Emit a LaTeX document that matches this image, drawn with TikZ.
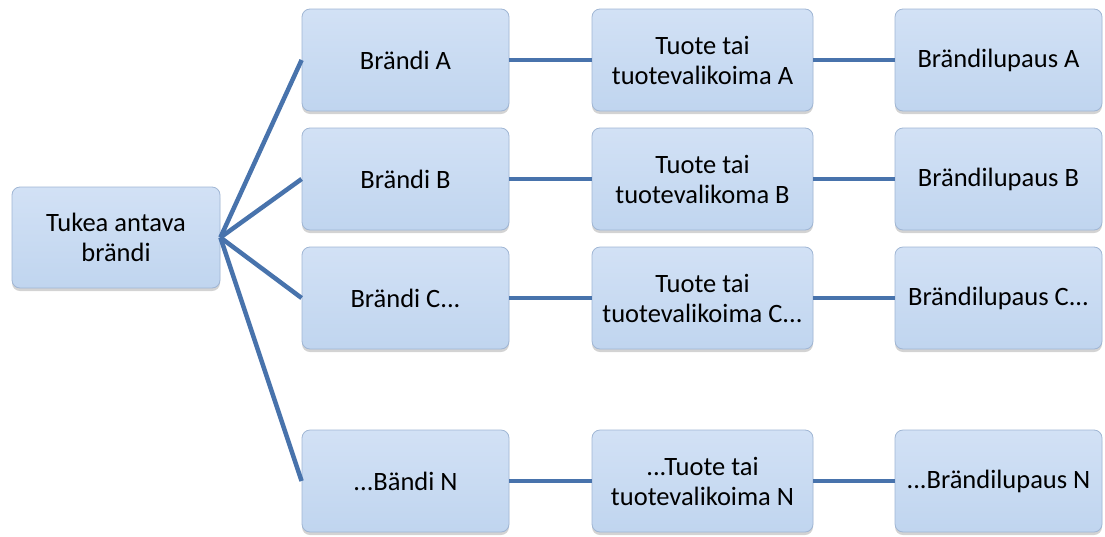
\documentclass[tikz,border=0pt]{standalone}
\usepackage{fontspec}
\setmainfont{Carlito}
\usetikzlibrary{shadows,calc}
\definecolor{boxtop}{RGB}{210,225,245}
\definecolor{boxbot}{RGB}{192,213,239}
\definecolor{boxline}{RGB}{160,182,212}
\definecolor{conn}{RGB}{72,115,172}
\tikzset{
  bbox/.style={draw=boxline, line width=0.8pt, rounded corners=8pt,
    top color=boxtop, bottom color=boxbot,
    drop shadow={opacity=0.35, shadow xshift=0pt, shadow yshift=-3pt},
    align=center, inner sep=2pt,
    font=\fontsize{26.5}{30}\selectfont, text=black},
  c1/.style={bbox, minimum width=207pt, minimum height=102pt},
  c2/.style={bbox, minimum width=221pt, minimum height=102pt},
  c3/.style={bbox, minimum width=207pt, minimum height=102pt},
  cn/.style={draw=conn, line width=4.5pt}
}
\begin{document}
\begin{tikzpicture}[x=1pt,y=-1pt]
\useasboundingbox (0,0) rectangle (1105,536);
\node[bbox, minimum width=208pt, minimum height=101pt] (root) at (116,237.5) {Tukea antava\\brändi};
\node[c1] (a1) at (405.5,60) {Brändi A};
\node[c2] (a2) at (702.5,60) {Tuote tai\\tuotevalikoima A};
\node[c3] (a3) at (998.5,60) {Brändilupaus A};
\node[c1] (b1) at (405.5,179) {Brändi B};
\node[c2] (b2) at (702.5,179) {Tuote tai\\tuotevalikoma B};
\node[c3] (b3) at (998.5,179) {Brändilupaus B};
\node[c1] (cc1) at (405.5,298) {Brändi C...};
\node[c2] (cc2) at (702.5,298) {Tuote tai\\tuotevalikoima C...};
\node[c3] (cc3) at (998.5,298) {Brändilupaus C...};
\node[c1] (n1) at (405.5,481) {...Bändi N};
\node[c2] (n2) at (702.5,481) {...Tuote tai\\tuotevalikoima N};
\node[c3] (n3) at (998.5,481) {...Brändilupaus N};
\coordinate (hub) at (root.east);
\foreach \r in {a1,b1,cc1,n1} { \draw[cn] (hub) -- (\r.west); }
\draw[cn] (a1.east) -- (a2.west);
\draw[cn] (a2.east) -- (a3.west);
\draw[cn] (b1.east) -- (b2.west);
\draw[cn] (b2.east) -- (b3.west);
\draw[cn] (cc1.east) -- (cc2.west);
\draw[cn] (cc2.east) -- (cc3.west);
\draw[cn] (n1.east) -- (n2.west);
\draw[cn] (n2.east) -- (n3.west);
\end{tikzpicture}
\end{document}
